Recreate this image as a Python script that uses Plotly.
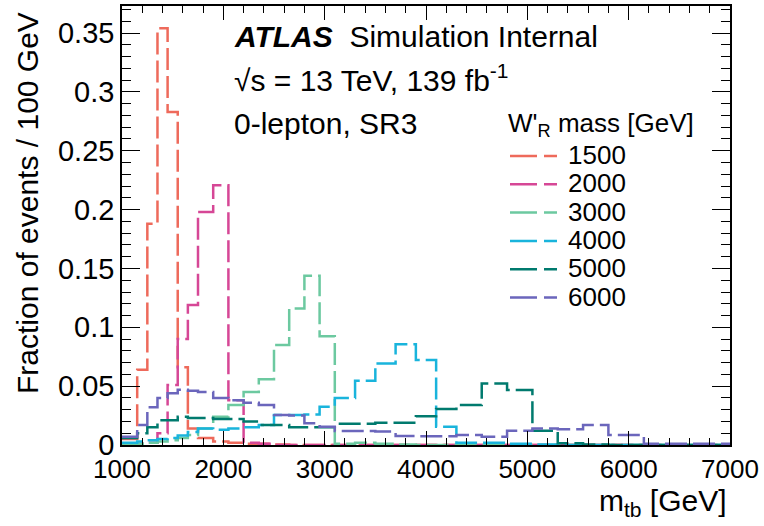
import plotly.graph_objects as go

# Bin edges of m_tb [GeV]
edges = [1000, 1150, 1250, 1350, 1450, 1550, 1650, 1750, 1900, 2050, 2200, 2350, 2500,
         2650, 2800, 2950, 3100, 3300, 3500, 3700, 3900, 4100, 4300, 4550, 4800, 5050,
         5300, 5550, 5800, 6150, 7000]

mass_labels = ["1500", "2000", "3000", "4000", "5000", "6000"]

frac_1500 = [0.005, 0.064, 0.188, 0.354, 0.283, 0.066, 0.014, 0.006, 0.003, 0.002, 0.001,
             0.001, 0.0005, 0, 0, 0, 0, 0, 0, 0, 0, 0, 0, 0, 0, 0, 0, 0, 0, 0]
frac_2000 = [0.001, 0.001, 0.002, 0.010, 0.051, 0.090, 0.119, 0.198, 0.2207, 0.038, 0.002,
             0.001, 0, 0, 0, 0, 0, 0, 0, 0, 0, 0, 0, 0, 0, 0, 0, 0, 0, 0]
frac_3000 = [0.001, 0.001, 0.002, 0.003, 0.004, 0.006, 0.0085, 0.014, 0.024, 0.034, 0.045,
             0.0558, 0.085, 0.116, 0.1437, 0.0925, 0.001, 0.002, 0.001, 0.0005, 0, 0, 0, 0,
             0, 0, 0, 0, 0, 0]
frac_4000 = [0.002, 0.003, 0.004, 0.005, 0.006, 0.008, 0.011, 0.014, 0.013, 0.014, 0.015,
             0.017, 0.0255, 0.0255, 0.026, 0.0325, 0.040, 0.0546, 0.0693, 0.0855, 0.0722,
             0.0156, 0.002, 0.002, 0.001, 0.0005, 0, 0, 0, 0]
frac_5000 = [0.006, 0.010, 0.015, 0.021, 0.021, 0.024, 0.023, 0.023, 0.022, 0.022, 0.020,
             0.017, 0.017, 0.015, 0.015, 0.015, 0.018, 0.018, 0.019, 0.019, 0.0245, 0.0305,
             0.034, 0.0523, 0.0467, 0.0121, 0.0014, 0.0005, 0, 0]
frac_6000 = [0.007, 0.017, 0.032, 0.040, 0.044, 0.047, 0.046, 0.045, 0.040, 0.038, 0.036,
             0.034, 0.0255, 0.025, 0.0184, 0.0156, 0.012, 0.012, 0.0115, 0.0076, 0.0074,
             0.0074, 0.0085, 0.007, 0.0121, 0.014, 0.0133, 0.017, 0.0085, 0.001]

series = [frac_1500, frac_2000, frac_3000, frac_4000, frac_5000, frac_6000]
colors = ["#EE6A5B", "#D64796", "#6CC9A0", "#19B4DC", "#007A6E", "#6B66BC"]

FONT = "Liberation Sans, Arial, sans-serif"
DASH = "22px,6px"

fig = go.Figure()
for vals, col, lab in zip(series, colors, mass_labels):
    fig.add_trace(go.Scatter(
        x=edges, y=vals + [vals[-1]], mode="lines", name=lab,
        line=dict(color=col, width=2.5, dash=DASH, shape="hv"),
        showlegend=False, hoverinfo="skip"))

# plot-area geometry in pixels (for placing text in paper coordinates)
L, R, T, B = 122, 730, 6, 445
def px(xp):
    return (xp - L) / (R - L)
def py(yp):
    return (B - yp) / (B - T)

ann = []
ann.append(dict(x=px(232), y=py(36), xref="paper", yref="paper", xanchor="left",
                yanchor="middle", showarrow=False,
                text="<b><i>ATLAS</i></b>  Simulation Internal",
                font=dict(family=FONT, size=30, color="black")))
ann.append(dict(x=px(232), y=py(78), xref="paper", yref="paper", xanchor="left",
                yanchor="middle", showarrow=False,
                text="√s = 13 TeV, 139 fb<sup>-1</sup>",
                font=dict(family=FONT, size=30, color="black")))
ann.append(dict(x=px(232), y=py(124), xref="paper", yref="paper", xanchor="left",
                yanchor="middle", showarrow=False, text="0-lepton, SR3",
                font=dict(family=FONT, size=30, color="black")))
# axis titles (right/top aligned, ROOT style)
ann.append(dict(x=px(27), y=py(10), xref="paper", yref="paper", xanchor="center",
                yanchor="top", showarrow=False, textangle=-90,
                text="Fraction of events / 100 GeV",
                font=dict(family=FONT, size=30, color="black")))
ann.append(dict(x=px(729), y=py(502), xref="paper", yref="paper", xanchor="right",
                yanchor="middle", showarrow=False,
                text="m<sub>tb</sub> [GeV]",
                font=dict(family=FONT, size=30, color="black")))
# legend (manual)
ann.append(dict(x=px(506), y=py(125), xref="paper", yref="paper", xanchor="left",
                yanchor="middle", showarrow=False,
                text="W'<sub>R</sub> mass [GeV]",
                font=dict(family=FONT, size=26, color="black")))
shapes = []
for i, (col, lab) in enumerate(zip(colors, mass_labels)):
    yc = 156 + 28.3 * i
    shapes.append(dict(type="line", xref="paper", yref="paper",
                       x0=px(510), x1=px(557), y0=py(yc), y1=py(yc),
                       line=dict(color=col, width=2.5, dash="27px,7px")))
    ann.append(dict(x=px(566), y=py(yc - 1), xref="paper", yref="paper",
                    xanchor="left", yanchor="middle", showarrow=False, text=lab,
                    font=dict(family=FONT, size=26, color="black")))

fig.update_layout(
    width=764, height=526,
    margin=dict(l=L, r=764 - R, t=T, b=526 - B),
    paper_bgcolor="white", plot_bgcolor="white",
    font=dict(family=FONT, size=26, color="black"),
    annotations=ann, shapes=shapes,
    xaxis=dict(range=[1000, 7000], dtick=1000, tick0=1000, showgrid=False,
               zeroline=False, showline=True, linecolor="black", linewidth=1.5,
               mirror="allticks", ticks="inside", ticklen=14, tickwidth=1.2,
               tickcolor="black", automargin=False,
               minor=dict(dtick=200, ticks="inside", ticklen=7, tickcolor="black",
                          tickwidth=1.2, showgrid=False),
               tickfont=dict(family=FONT, size=26)),
    yaxis=dict(range=[0, 0.373], dtick=0.05, tick0=0, showgrid=False,
               zeroline=False, showline=True, linecolor="black", linewidth=1.5,
               mirror="allticks", ticks="inside", ticklen=18, tickwidth=1.2,
               tickcolor="black", automargin=False,
               minor=dict(dtick=0.01, ticks="inside", ticklen=9, tickcolor="black",
                          tickwidth=1.2, showgrid=False),
               tickfont=dict(family=FONT, size=29)),
)

fig.write_html("out.html",
               config={"displayModeBar": False},
               post_script="document.body.style.margin='0';document.body.style.padding='0';")
